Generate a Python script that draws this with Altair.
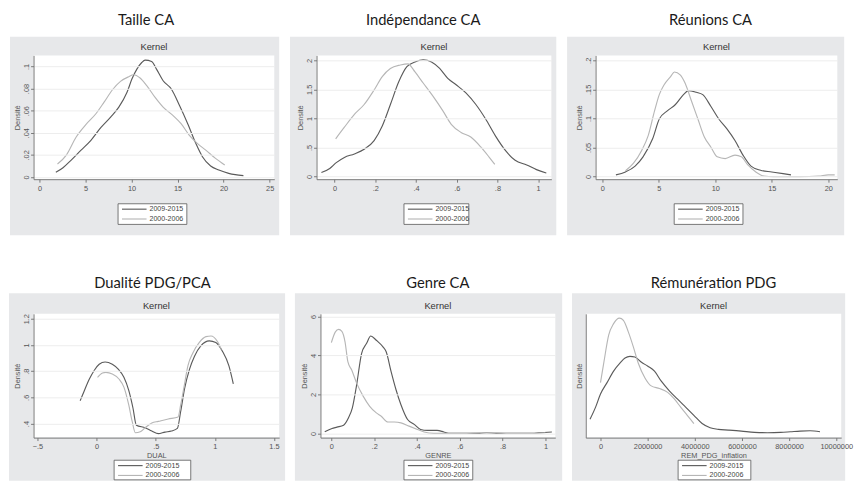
import altair as alt
import pandas as pd

SERIES = ["2009-2015", "2000-2006"]
LINE_COLORS = ["#5a5a5a", "#b6b6b6"]

TITLES = ["Taille CA", "Indépendance CA", "Réunions CA",
          "Dualité PDG/PCA", "Genre CA", "Rémunération PDG"]
X_TITLES = [None, None, None, "DUAL", "GENRE", "REM_PDG_inflation"]

X_TICKS = [[0, 5, 10, 15, 20, 25],
           [0, 0.2, 0.4, 0.6, 0.8, 1],
           [0, 5, 10, 15, 20],
           [-0.5, 0, 0.5, 1, 1.5],
           [0, 0.2, 0.4, 0.6, 0.8, 1],
           [0, 2000000, 4000000, 6000000, 8000000, 10000000]]
Y_TICKS = [[0, 0.02, 0.04, 0.06, 0.08, 0.1],
           [0, 0.5, 1, 1.5, 2],
           [0, 0.05, 0.1, 0.15, 0.2],
           [0.4, 0.6, 0.8, 1, 1.2],
           [0, 2, 4, 6],
           []]
X_DOMAINS = [[-0.64, 25.5], [-0.089, 1.065], [-0.6, 20.8],
             [-0.533, 1.544], [-0.051, 1.046], [-625000, 10210000]]
Y_DOMAINS = [[-0.002, 0.110], [-0.045, 2.085], [-0.0045, 0.2085],
             [0.293, 1.237], [-0.22, 6.14], [-0.11, 3.67]]

# ---- Taille CA
taille_x_a = [1.78, 2.56, 3.45, 4.52, 5.59, 6.66, 7.73, 8.62, 9.51, 10.04, 10.58, 11.11, 11.47,
              12.18, 12.71, 13.43, 14.32, 15.21, 16.10, 16.99, 17.70, 18.59, 19.48, 20.55, 21.26, 22.15]
taille_y_a = [0.0042, 0.0084, 0.0153, 0.0243, 0.0332, 0.0446, 0.0542, 0.0632, 0.0766, 0.0886, 0.0976,
              0.1036, 0.1057, 0.1045, 0.0976, 0.0871, 0.0796, 0.0647, 0.0482, 0.0302, 0.0183, 0.0099,
              0.0063, 0.0033, 0.0021, 0.0012]
taille_x_b = [1.96, 2.92, 3.99, 5.06, 6.13, 7.02, 7.91, 8.80, 9.69, 10.22, 10.93, 11.65, 12.54, 13.43,
              14.49, 15.38, 16.28, 17.17, 18.06, 19.12, 20.12]
taille_y_b = [0.0117, 0.0198, 0.0362, 0.0476, 0.0572, 0.0677, 0.0787, 0.0865, 0.0907, 0.0925, 0.0895,
              0.0826, 0.0722, 0.0632, 0.0557, 0.0482, 0.0377, 0.0302, 0.0243, 0.0168, 0.0108]

# ---- Indépendance CA
indep_x_a = [-0.065, -0.024, 0.008, 0.048, 0.097, 0.145, 0.194, 0.234, 0.274, 0.315, 0.355, 0.395, 0.435,
             0.476, 0.516, 0.556, 0.597, 0.645, 0.694, 0.742, 0.790, 0.839, 0.887, 0.944, 0.992, 1.040]
indep_y_a = [0.07, 0.14, 0.24, 0.33, 0.39, 0.47, 0.62, 0.87, 1.24, 1.63, 1.89, 1.97, 2.01, 1.97, 1.86,
             1.69, 1.58, 1.44, 1.24, 0.99, 0.70, 0.45, 0.28, 0.20, 0.12, 0.06]
indep_x_b = [0.005, 0.048, 0.097, 0.145, 0.194, 0.234, 0.274, 0.323, 0.360, 0.395, 0.435, 0.484, 0.532,
             0.573, 0.621, 0.669, 0.718, 0.758, 0.787]
indep_y_b = [0.65, 0.85, 1.07, 1.24, 1.49, 1.72, 1.86, 1.92, 1.94, 1.80, 1.61, 1.38, 1.13, 0.90, 0.76,
             0.68, 0.51, 0.34, 0.21]

# ---- Réunions CA
reun_x_a = [1.2, 2.05, 2.9, 3.6, 4.45, 5.04, 5.75, 6.47, 7.18, 7.61, 8.32, 8.89, 9.60, 10.31, 11.03,
            11.74, 12.45, 13.16, 14.0, 15.0, 16.0, 16.7]
reun_y_a = [0.003, 0.008, 0.018, 0.034, 0.065, 0.099, 0.113, 0.124, 0.141, 0.148, 0.145, 0.141, 0.121,
            0.099, 0.082, 0.062, 0.037, 0.018, 0.011, 0.008, 0.005, 0.003]
reun_x_b = [2.05, 2.76, 3.48, 4.05, 4.62, 5.04, 5.47, 6.04, 6.38, 6.89, 7.32, 7.89, 8.46, 9.03, 9.60,
            10.17, 10.88, 11.74, 12.31, 12.88, 13.59, 14.30, 15.16, 17.44, 19.15, 20.0, 20.57]
reun_y_b = [0.010, 0.023, 0.045, 0.070, 0.113, 0.141, 0.158, 0.172, 0.180, 0.175, 0.161, 0.130, 0.099,
            0.068, 0.051, 0.034, 0.031, 0.037, 0.034, 0.020, 0.008, 0.001, 0.0, 0.0, 0.001, 0.003, 0.003]

# ---- Dualité PDG/PCA
dual_x_a = [-0.139, -0.103, -0.061, -0.019, 0.022, 0.072, 0.133, 0.183, 0.231, 0.272, 0.308, 0.336,
            0.411, 0.467, 0.522, 0.578, 0.633, 0.683, 0.711, 0.744, 0.786, 0.828, 0.883, 0.953, 1.008,
            1.064, 1.119, 1.156]
dual_y_a = [0.574, 0.653, 0.740, 0.807, 0.852, 0.870, 0.852, 0.815, 0.753, 0.653, 0.517, 0.388, 0.368,
            0.343, 0.323, 0.335, 0.343, 0.363, 0.492, 0.666, 0.815, 0.914, 0.994, 1.031, 1.019, 0.952,
            0.840, 0.703]
dual_x_b = [0.008, 0.05, 0.078, 0.133, 0.189, 0.231, 0.272, 0.300, 0.328, 0.369, 0.411, 0.467, 0.522,
            0.606, 0.689, 0.711, 0.739, 0.772, 0.814, 0.869, 0.925, 0.967, 1.022, 1.056]
dual_y_b = [0.753, 0.785, 0.790, 0.778, 0.740, 0.678, 0.542, 0.420, 0.330, 0.338, 0.368, 0.405, 0.417,
            0.435, 0.450, 0.542, 0.678, 0.840, 0.939, 1.019, 1.063, 1.068, 1.026, 0.964]

# ---- Genre CA
genre_x_a = [-0.031, 0.003, 0.026, 0.057, 0.08, 0.098, 0.118, 0.141, 0.164, 0.184, 0.210, 0.241, 0.256,
             0.279, 0.302, 0.325, 0.356, 0.387, 0.417, 0.448, 0.494, 0.525, 0.548, 0.617, 0.693, 0.724,
             0.77, 0.939, 0.969, 1.03]
genre_y_a = [0.085, 0.25, 0.32, 0.42, 0.80, 1.31, 2.49, 4.10, 4.61, 5.0, 4.78, 4.44, 4.19, 3.17, 2.24,
             1.47, 0.71, 0.46, 0.20, 0.15, 0.15, 0.07, 0.0, 0.0, 0.0, 0.03, 0.0, 0.0, 0.03, 0.07]
genre_x_b = [0.0, 0.018, 0.034, 0.049, 0.064, 0.077, 0.095, 0.118, 0.149, 0.179, 0.210, 0.233, 0.264,
             0.294, 0.325, 0.363, 0.402, 0.433, 0.479, 0.632, 0.693, 0.77, 0.816, 0.939, 1.0]
genre_y_b = [4.66, 5.20, 5.34, 5.24, 4.69, 3.68, 3.25, 2.58, 1.90, 1.39, 1.05, 0.88, 0.58, 0.58, 0.54,
             0.37, 0.20, 0.07, 0.0, 0.0, 0.03, 0.03, 0.0, 0.0, 0.03]

# ---- Rémunération PDG (density in units of 1e-7)
rem_x_a = [-444000, -208000, 0, 278000, 556000, 833000, 1040000, 1250000, 1460000, 1740000, 2010000,
           2290000, 2570000, 2920000, 3260000, 3610000, 3960000, 4310000, 4650000, 5000000, 5420000,
           5970000, 6530000, 7080000, 7640000, 8060000, 8470000, 8890000, 9310000]
rem_y_a = [0.45, 0.82, 1.22, 1.57, 1.92, 2.17, 2.32, 2.37, 2.35, 2.19, 2.07, 1.92, 1.62, 1.32, 1.07,
           0.82, 0.57, 0.32, 0.19, 0.14, 0.12, 0.09, 0.05, 0.04, 0.05, 0.07, 0.09, 0.10, 0.07]
rem_x_b = [0, 139000, 347000, 556000, 806000, 972000, 1180000, 1390000, 1600000, 1880000, 2150000,
           2500000, 2850000, 3130000, 3400000, 3680000, 3960000]
rem_y_b = [1.57, 2.17, 3.02, 3.37, 3.54, 3.47, 3.12, 2.67, 2.17, 1.72, 1.47, 1.39, 1.27, 1.07, 0.82,
           0.57, 0.32]

XA = [taille_x_a, indep_x_a, reun_x_a, dual_x_a, genre_x_a, rem_x_a]
YA = [taille_y_a, indep_y_a, reun_y_a, dual_y_a, genre_y_a, rem_y_a]
XB = [taille_x_b, indep_x_b, reun_x_b, dual_x_b, genre_x_b, rem_x_b]
YB = [taille_y_b, indep_y_b, reun_y_b, dual_y_b, genre_y_b, rem_y_b]

# layout (pixels): plot size, box margins, legend box, title shift
LAYOUT = [
    dict(w=245, h=126, L=24, R=5, T=19, B=57, lx=86, ly=151, lw=70, lh=21, dx=-8, off=9),
    dict(w=239, h=126, L=27, R=5, T=19, B=57, lx=89, ly=151, lw=66, lh=21, dx=-11, off=9),
    dict(w=246, h=126, L=29, R=7, T=19, B=57, lx=80, ly=151, lw=70, lh=21, dx=-6, off=9),
    dict(w=250, h=126, L=25, R=6, T=21, B=44, lx=82, ly=149, lw=78, lh=20, dx=-4, off=2),
    dict(w=239, h=126, L=26, R=7, T=21, B=44, lx=85, ly=149, lw=70, lh=20, dx=0, off=2),
    dict(w=260, h=126, L=14, R=4, T=21, B=44, lx=94, ly=149, lw=74, lh=20, dx=0, off=2),
]

GRAY = "#e7e8ea"
SMALL_FONT = "Liberation Sans"
STATA_FMT = "replace(format(datum.value, '~g'), '0.', '.')"
ONE = pd.DataFrame({"k": [0]})


def panel(i):
    lay = LAYOUT[i]
    w, h = lay["w"], lay["h"]
    df = pd.DataFrame({
        "x": list(XA[i]) + list(XB[i]),
        "y": list(YA[i]) + list(YB[i]),
        "serie": [SERIES[0]] * len(XA[i]) + [SERIES[1]] * len(XB[i]),
    })

    box = alt.Chart(ONE).mark_rect(color=GRAY).encode(
        x=alt.value(-lay["L"]), x2=alt.value(w + lay["R"]),
        y=alt.value(-lay["T"]), y2=alt.value(h + lay["B"]))
    plotbg = alt.Chart(ONE).mark_rect(color="white").encode(
        x=alt.value(0), x2=alt.value(w), y=alt.value(0), y2=alt.value(h))

    xaxis = alt.Axis(values=X_TICKS[i], title=X_TITLES[i],
                     labelExpr=STATA_FMT if i < 5 else "format(datum.value, 'd')",
                     labelFlush=(i == 5), labelOverlap=False,
                     labelFont=SMALL_FONT, labelFontSize=7.5, labelColor="#555",
                     labelPadding=2, tickSize=3, tickColor="#777", domainColor="#777",
                     grid=False, titleFont=SMALL_FONT, titleFontSize=7.5,
                     titleFontWeight="normal", titleColor="#555", titlePadding=2, zindex=1)
    if i < 5:
        yaxis = alt.Axis(values=Y_TICKS[i], title="Densité", labelExpr=STATA_FMT,
                         labelAngle=270, labelAlign="center", labelBaseline="alphabetic",
                         labelPadding=2, labelOverlap=False,
                         labelFont=SMALL_FONT, labelFontSize=7.5, labelColor="#555",
                         tickSize=3, tickColor="#777", domainColor="#777",
                         grid=True, gridColor="#ededed",
                         titleFont=SMALL_FONT, titleFontSize=7.5, titleFontWeight="normal",
                         titleColor="#555", titlePadding=1, zindex=1)
    else:
        yaxis = alt.Axis(title="Densité", labels=False, ticks=False, grid=False,
                         domainColor="#777",
                         titleFont=SMALL_FONT, titleFontSize=7.5, titleFontWeight="normal",
                         titleColor="#555", titlePadding=2, zindex=1)

    lines = alt.Chart(df).mark_line(strokeWidth=1.15, interpolate="monotone").encode(
        x=alt.X("x:Q", scale=alt.Scale(domain=X_DOMAINS[i], nice=False, zero=False), axis=xaxis),
        y=alt.Y("y:Q", scale=alt.Scale(domain=Y_DOMAINS[i], nice=False, zero=False), axis=yaxis),
        color=alt.Color("serie:N", scale=alt.Scale(domain=SERIES, range=LINE_COLORS), legend=None),
    )

    kernel = alt.Chart(ONE).mark_text(text="Kernel", font=SMALL_FONT, fontSize=9.5,
                                      color="#333", baseline="middle").encode(
        x=alt.value(w / 2), y=alt.value(-8))

    lx, ly, lw, lh = lay["lx"], lay["ly"], lay["lw"], lay["lh"]
    leg_box = alt.Chart(ONE).mark_rect(fill="white", stroke="#555", strokeWidth=0.8).encode(
        x=alt.value(lx), x2=alt.value(lx + lw), y=alt.value(ly), y2=alt.value(ly + lh))
    layers = [box, plotbg, lines, kernel, leg_box]
    for k, name in enumerate(SERIES):
        yy = ly + 5.5 + 10 * k
        layers.append(alt.Chart(ONE).mark_rule(color=LINE_COLORS[k], strokeWidth=1.15).encode(
            x=alt.value(lx + 4), x2=alt.value(lx + 29), y=alt.value(yy)))
        layers.append(alt.Chart(ONE).mark_text(text=name, font=SMALL_FONT, fontSize=7.2,
                                               color="#444", align="left",
                                               baseline="middle").encode(
            x=alt.value(lx + 32), y=alt.value(yy)))

    return alt.layer(*layers).properties(
        width=w, height=h,
        title=alt.TitleParams(text=TITLES[i], font="Lato", fontSize=15, fontWeight="normal",
                              color="#1a1a1a", anchor="middle", offset=lay["off"], dx=lay["dx"]),
    )


row1 = alt.hconcat(panel(0), panel(1), panel(2), spacing=9).resolve_scale(
    x="independent", y="independent")
row2 = alt.hconcat(panel(3), panel(4), panel(5), spacing=8).resolve_scale(
    x="independent", y="independent")

chart = alt.vconcat(row1, row2, spacing=40).properties(padding=0).configure_view(
    stroke=None).configure(background="white")

chart.save("out.html", embed_options={"renderer": "svg", "actions": False})
